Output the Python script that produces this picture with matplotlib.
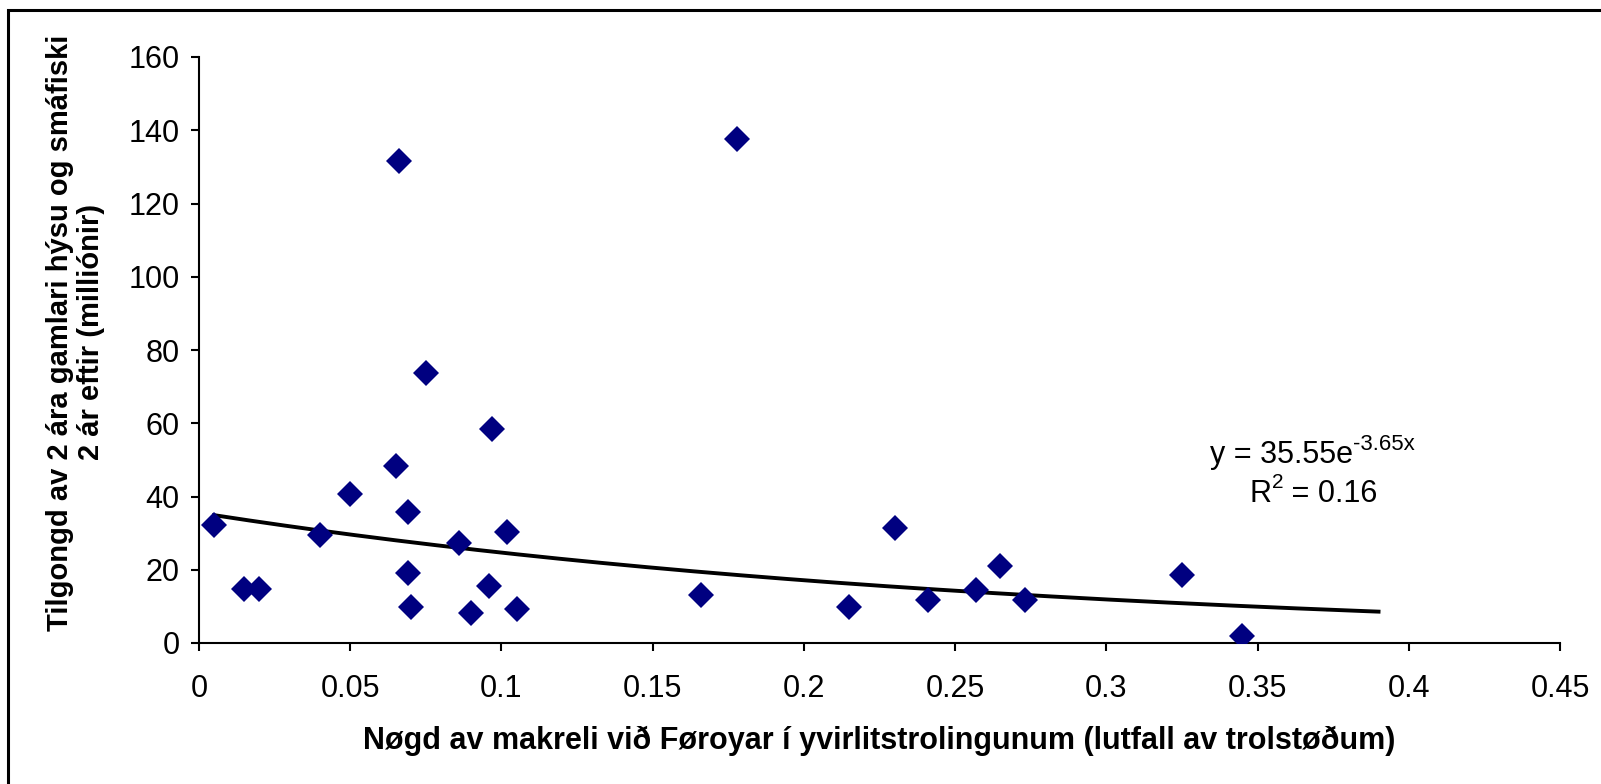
import numpy as np
import matplotlib.pyplot as plt
import matplotlib.patches as mpatches
from matplotlib.transforms import offset_copy

plt.rcParams['font.family'] = ['Liberation Sans', 'DejaVu Sans']

# Data
mackerel = [0.005, 0.015, 0.020, 0.040, 0.050, 0.066, 0.065, 0.069, 0.069, 0.070,
            0.075, 0.086, 0.090, 0.096, 0.097, 0.102, 0.105, 0.166, 0.178, 0.215,
            0.230, 0.241, 0.257, 0.265, 0.273, 0.325, 0.345]
recruits = [32.1, 14.8, 14.8, 29.5, 40.7, 131.6, 48.2, 35.7, 19.2, 9.8,
            73.6, 27.3, 8.1, 15.6, 58.3, 30.4, 9.2, 13.1, 137.7, 9.8,
            31.5, 11.7, 14.5, 20.9, 11.7, 18.7, 1.95]

fit_a = 35.55
fit_b = -3.65
fit_range = (0.005, 0.39)

x_ticks = [0, 0.05, 0.1, 0.15, 0.2, 0.25, 0.3, 0.35, 0.4, 0.45]
x_tick_labels = ['0', '0.05', '0.1', '0.15', '0.2', '0.25', '0.3', '0.35', '0.4', '0.45']
y_ticks = [0, 20, 40, 60, 80, 100, 120, 140, 160]

fig = plt.figure(figsize=(16.01, 7.84), dpi=100)
ax = fig.add_axes([199 / 1601, 1 - 643 / 784, (1560 - 199) / 1601, (643 - 57) / 784])

# trend line
xs = np.linspace(fit_range[0], fit_range[1], 200)
ax.plot(xs, fit_a * np.exp(fit_b * xs), color='black', linewidth=2.8, zorder=2)

# points
ax.plot(mackerel, recruits, linestyle='none', marker='D', markersize=13,
        color='#000080', markeredgewidth=0, zorder=3)

ax.set_xlim(0, 0.45)
ax.set_ylim(0, 160)
ax.set_xticks(x_ticks)
ax.set_xticklabels(x_tick_labels)
ax.set_yticks(y_ticks)
ax.tick_params(direction='out', length=6, width=1.5, labelsize=22, pad=8)
ax.tick_params(axis='x', pad=16)

for side in ['top', 'right']:
    ax.spines[side].set_visible(False)
for side in ['left', 'bottom']:
    ax.spines[side].set_linewidth(1.5)

ax.set_xlabel('Nøgd av makreli við Føroyar í yvirlitstrolingunum (lutfall av trolstøðum)',
              fontsize=22, fontweight='bold', labelpad=16)
ax.set_ylabel('Tilgongd av 2 ára gamlari hýsu og smáfiski\n2 ár eftir (milliónir)',
              fontsize=21, fontweight='bold', linespacing=1.15)
ax.yaxis.set_label_coords(-0.069, 0.53)


def text_line(x, y, pieces):
    # pieces: (text, fontsize, raise in points); the whole line is centred on x
    fig.canvas.draw()
    renderer = fig.canvas.get_renderer()
    widths = []
    for s, size, _ in pieces:
        t = ax.text(0, 0, s, fontsize=size)
        widths.append(t.get_window_extent(renderer).width * 72 / fig.dpi)
        t.remove()
    pos = -sum(widths) / 2
    for (s, size, rise), w in zip(pieces, widths):
        ax.text(x, y, s, fontsize=size, ha='left', va='center',
                transform=offset_copy(ax.transData, fig=fig, x=pos, y=rise, units='points'))
        pos += w


# fit equation, superscripts as plain text so the hyphen stays a hyphen
text_line(0.368, 51.3, [('y = 35.55e', 22, 0), ('-3.65x', 16, 8)])
text_line(0.3685, 40.7, [('R', 22, 0), ('2', 15, 8), (' = 0.16', 22, 0)])

# frame around the figure
rect = mpatches.Rectangle((8 / 1601, -0.1), 1.2, 1 - 10 / 784 + 0.1, transform=fig.transFigure,
                          fill=False, edgecolor='black', linewidth=2.2)
fig.patches.append(rect)

fig.savefig('out.png', dpi=100)
